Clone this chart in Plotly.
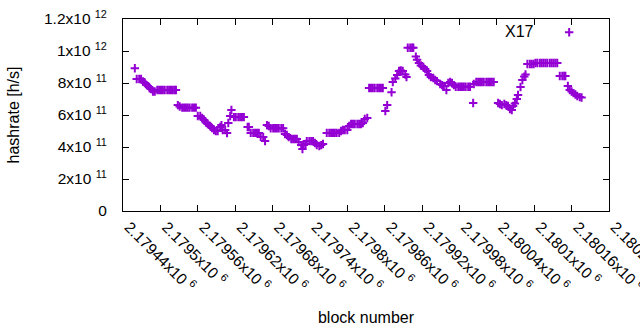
import plotly.graph_objects as go

# ---- data (block number, hashrate in h/s) ----
blocks = [
    2179459, 2179462, 2179466, 2179469, 2179472, 2179475, 2179478, 2179482, 2179485, 2179488, 2179491,
    2179495, 2179498, 2179501, 2179504, 2179507, 2179511, 2179514, 2179517, 2179520, 2179523, 2179525,
    2179528, 2179531, 2179535, 2179538, 2179541, 2179544, 2179547, 2179551, 2179554, 2179557,
    2179560, 2179564, 2179567, 2179570, 2179573, 2179576, 2179580, 2179583, 2179586, 2179589, 2179592,
    2179596, 2179598, 2179600, 2179604, 2179607, 2179609, 2179612, 2179614,
    2179618, 2179621, 2179625, 2179628, 2179631, 2179634, 2179640, 2179642,
    2179645, 2179649, 2179652, 2179655, 2179658, 2179661, 2179665, 2179668, 2179671, 2179674,
    2179677, 2179681, 2179684, 2179687, 2179690, 2179694, 2179697, 2179700, 2179703, 2179706,
    2179710, 2179713, 2179716, 2179719, 2179722, 2179726, 2179728, 2179730, 2179733,
    2179735, 2179739, 2179742, 2179745, 2179748, 2179751, 2179755, 2179758, 2179761,
    2179767, 2179771, 2179774, 2179777, 2179780, 2179783, 2179787, 2179790, 2179793, 2179796, 2179800,
    2179803, 2179806, 2179809, 2179812, 2179816, 2179819, 2179822, 2179825, 2179828, 2179832,
    2179835, 2179838, 2179841, 2179844, 2179848, 2179851, 2179854, 2179857,
    2179861, 2179864, 2179871, 2179873, 2179877, 2179880, 2179883, 2179886, 2179889, 2179893, 2179895,
    2179897, 2179901, 2179904, 2179906, 2179910, 2179912, 2179915, 2179918, 2179922, 2179925, 2179928,
    2179931, 2179934, 2179938, 2179941, 2179944, 2179949, 2179952, 2179955, 2179959, 2179962, 2179965,
    2179968, 2179971, 2179974, 2179978, 2179981, 2179984, 2179987, 2179990, 2179994, 2179997,
    2180002, 2180003, 2180007, 2180010, 2180013, 2180016, 2180019, 2180023, 2180026, 2180029, 2180032, 2180035,
    2180042, 2180045, 2180048, 2180052, 2180055, 2180058, 2180061, 2180064, 2180066, 2180069, 2180072,
    2180074, 2180078, 2180081, 2180084, 2180086,
    2180089, 2180093, 2180096, 2180099, 2180102, 2180105, 2180109, 2180112, 2180115, 2180118, 2180121,
    2180125, 2180128, 2180131, 2180134, 2180137,
    2180141, 2180145, 2180148, 2180150, 2180154, 2180157, 2180160, 2180163, 2180166, 2180169, 2180173, 2180176,
]
hashrate = [
    8.92e11, 8.25e11, 8.25e11, 8.25e11, 8.09e11, 8.00e11, 7.87e11, 7.75e11, 7.62e11, 7.47e11, 7.47e11,
    7.56e11, 7.56e11, 7.56e11, 7.56e11, 7.56e11, 7.56e11, 7.56e11, 7.56e11, 7.56e11, 7.56e11, 7.56e11,
    6.62e11, 6.53e11, 6.46e11, 6.46e11, 6.46e11, 6.46e11, 6.46e11, 6.46e11, 6.46e11, 6.46e11,
    5.94e11, 5.94e11, 5.81e11, 5.69e11, 5.53e11, 5.44e11, 5.31e11, 5.19e11, 5.06e11, 5.00e11, 5.00e11,
    5.25e11, 5.37e11, 5.06e11, 5.06e11, 4.87e11, 5.50e11, 5.94e11, 6.31e11,
    5.87e11, 5.87e11, 5.87e11, 5.87e11, 5.87e11, 5.87e11, 5.25e11, 5.25e11,
    4.88e11, 4.88e11, 4.88e11, 4.88e11, 4.88e11, 4.63e11, 4.63e11, 4.37e11, 5.37e11, 5.31e11,
    5.17e11, 5.17e11, 5.17e11, 5.17e11, 5.17e11, 5.17e11, 5.17e11, 4.81e11, 4.75e11, 4.62e11,
    4.50e11, 4.50e11, 4.50e11, 4.50e11, 4.31e11, 4.12e11, 3.87e11, 4.12e11, 4.19e11,
    4.37e11, 4.37e11, 4.37e11, 4.37e11, 4.25e11, 4.12e11, 4.06e11, 4.12e11, 4.19e11,
    4.88e11, 4.88e11, 4.88e11, 4.88e11, 4.88e11, 4.88e11, 4.88e11, 5.00e11, 5.06e11, 5.06e11, 5.06e11,
    5.31e11, 5.44e11, 5.44e11, 5.44e11, 5.44e11, 5.44e11, 5.44e11, 5.50e11, 5.75e11, 5.81e11,
    7.69e11, 7.69e11, 7.69e11, 7.69e11, 7.69e11, 7.69e11, 7.69e11, 7.69e11,
    6.25e11, 6.62e11, 7.42e11, 8.06e11, 8.28e11, 8.50e11, 8.75e11, 8.78e11, 8.75e11, 8.53e11, 8.37e11,
    1.02e12, 1.02e12, 1.02e12, 1.02e12, 9.65e11, 9.45e11, 9.25e11, 9.09e11, 9.00e11, 8.87e11, 8.75e11,
    8.50e11, 8.37e11, 8.31e11, 8.19e11, 8.12e11, 7.94e11, 7.87e11, 7.81e11, 7.56e11, 8.00e11, 8.06e11,
    8.00e11, 7.87e11, 7.77e11, 7.77e11, 7.77e11, 7.77e11, 7.77e11, 7.77e11, 7.77e11, 7.77e11,
    6.75e11, 7.94e11, 8.06e11, 8.06e11, 8.06e11, 8.06e11, 8.06e11, 8.06e11, 8.06e11, 8.06e11, 8.06e11, 8.06e11,
    6.75e11, 6.69e11, 6.62e11, 6.69e11, 6.62e11, 6.56e11, 6.37e11, 6.31e11, 6.56e11, 6.72e11, 7.00e11,
    7.25e11, 7.75e11, 8.19e11, 8.40e11, 8.53e11,
    9.19e11, 9.19e11, 9.19e11, 9.19e11, 9.25e11, 9.25e11, 9.25e11, 9.25e11, 9.25e11, 9.25e11, 9.25e11,
    9.25e11, 9.25e11, 9.25e11, 9.25e11, 9.25e11,
    8.44e11, 8.44e11, 8.44e11, 8.44e11, 7.81e11, 7.56e11, 7.47e11, 7.37e11, 7.28e11, 7.19e11, 7.12e11, 7.09e11,
]
series_name = "X17"

x_tickvals = [2179440, 2179500, 2179560, 2179620, 2179680, 2179740, 2179800,
              2179860, 2179920, 2179980, 2180040, 2180100, 2180160, 2180220]
x_ticktext = ["2.17944x10 <sup>6</sup>", "2.1795x10 <sup>6</sup>", "2.17956x10 <sup>6</sup>",
              "2.17962x10 <sup>6</sup>", "2.17968x10 <sup>6</sup>", "2.17974x10 <sup>6</sup>",
              "2.1798x10 <sup>6</sup>", "2.17986x10 <sup>6</sup>", "2.17992x10 <sup>6</sup>",
              "2.17998x10 <sup>6</sup>", "2.18004x10 <sup>6</sup>", "2.1801x10 <sup>6</sup>",
              "2.18016x10 <sup>6</sup>", "2.18022x10 <sup>6</sup>"]
y_tickvals = [0, 2e11, 4e11, 6e11, 8e11, 1e12, 1.2e12]
y_ticktext = ["0", "2x10 <sup>11</sup>", "4x10 <sup>11</sup>", "6x10 <sup>11</sup>",
              "8x10 <sup>11</sup>", "1x10 <sup>12</sup>", "1.2x10 <sup>12</sup>"]

PURPLE = "#9400D3"
FONT = "Liberation Sans"

fig = go.Figure()
fig.add_trace(go.Scatter(
    x=blocks, y=hashrate, mode="markers", name="",
    marker=dict(symbol="cross-thin", size=6, color=PURPLE,
                line=dict(color=PURPLE, width=2)),
    showlegend=True,
))

axis_common = dict(showline=True, linecolor="black", linewidth=1, mirror="ticks",
                   ticks="inside", ticklen=6, tickcolor="black", tickwidth=1,
                   showgrid=False, zeroline=False, ticklabeloverflow="allow",
                   tickfont=dict(family=FONT, size=15.5, color="#000000"))

fig.update_layout(
    width=640, height=330,
    margin=dict(l=123, r=31, t=19, b=119),
    paper_bgcolor="white", plot_bgcolor="white",
    font=dict(family=FONT, size=16, color="#000000"),
    xaxis=dict(range=[2179440, 2180220], tickvals=x_tickvals, ticktext=x_ticktext,
               tickangle=45, automargin=False, ticklabelshift=6,
               title=dict(text="block number", font=dict(size=16), standoff=17),
               **axis_common),
    yaxis=dict(range=[0, 1.2e12], tickvals=y_tickvals, ticktext=y_ticktext,
               automargin=False, ticklabelstandoff=12,
               title=dict(text="hashrate [h/s]", font=dict(size=16), standoff=20),
               **axis_common),
    legend=dict(x=0.782, y=1.016, xanchor="left", yanchor="top",
                bgcolor="rgba(0,0,0,0)",
                title=dict(text=series_name + "\u00a0\u2009", side="left", font=dict(size=16)),
                font=dict(size=15), itemwidth=30),
)

fig.write_html("out.html", config={"displayModeBar": False},
               post_script="document.body.style.margin='0';")
